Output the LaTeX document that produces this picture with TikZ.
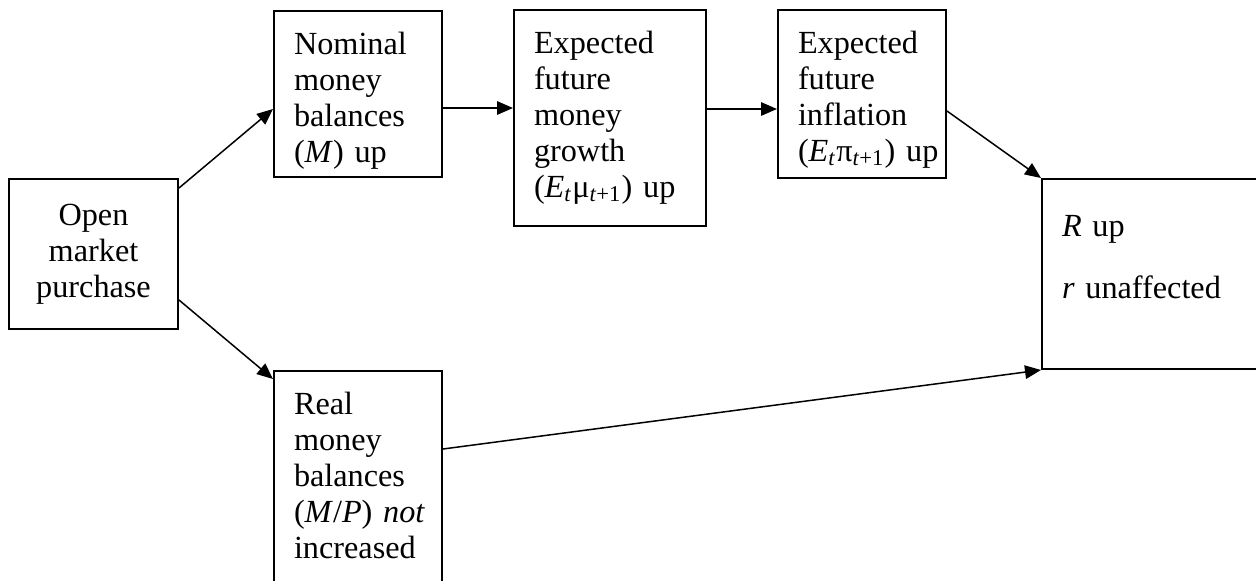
\documentclass[tikz,border=0pt]{standalone}
\usepackage{fontspec}
\setmainfont{Liberation Serif}
\usetikzlibrary{arrows.meta}

\begin{document}
\begin{tikzpicture}[x=0.4pt, y=-0.4pt,
        font=\fontsize{12.9}{14.4}\selectfont,
        block/.style={draw, line width=0.8pt, anchor=north west, align=left,
            inner xsep=8pt, inner ysep=0pt, text height=17.2pt},
        flow/.style={-{Triangle[length=6.4pt,width=5.4pt]}, line width=0.6pt}]
        \useasboundingbox (0,0) rectangle (1256,581);
        \clip (0,0) rectangle (1256,581);

        \node[draw, line width=0.8pt, anchor=north west, align=center,
            minimum width=67.6pt, minimum height=60pt, inner sep=0pt]
            (open) at (8,178) {Open\\market\\purchase};
        \node[block, text width=51.2pt, text depth=49.2pt] (nominal) at (273,10)
            {Nominal\\money\\balances\\(\textit{M}) up};
        \node[block, text width=60.8pt, text depth=69.2pt] (growth) at (513,9)
            {Expected\\future\\money\\growth\\\mbox{(\textit{E}\textsubscript{\textit{t}}μ\textsubscript{\textit{t}+1}) up}};
        \node[block, text width=51.2pt, text depth=50pt] (inflation) at (777,9)
            {Expected\\future\\inflation\\\mbox{(\textit{E}\textsubscript{\textit{t}}π\textsubscript{\textit{t}+1}) up}};
        \node[block, text width=80pt, text height=22.8pt, text depth=53.2pt] (rate) at (1041,178)
            {\textit{R} up\\[10.4pt]\textit{r} unaffected};
        \node[block, text width=51.2pt, text depth=78.8pt] (real) at (273,370)
            {Real\\money\\balances\\\mbox{(\textit{M}/\textit{P}) \textit{not}}\\increased};

        \draw[flow] ([yshift=-4pt]open.north east) -- ([yshift=-6pt]nominal.west);
        \draw[flow] ([yshift=12pt]open.south east) -- ([yshift=-3.6pt]real.north west);
        \draw[flow] ([yshift=-5.6pt]nominal.east) -- ([yshift=-5.6pt]nominal.east -| growth.west);
        \draw[flow] ([yshift=-6pt]inflation.west -| growth.east) -- ([yshift=-6pt]inflation.west);
        \draw[flow] ([yshift=-6.8pt]inflation.east) -- (rate.north west);
        \draw[flow] ([yshift=-31.6pt]real.north east) -- (rate.south west);

    \end{tikzpicture}
\end{document}
